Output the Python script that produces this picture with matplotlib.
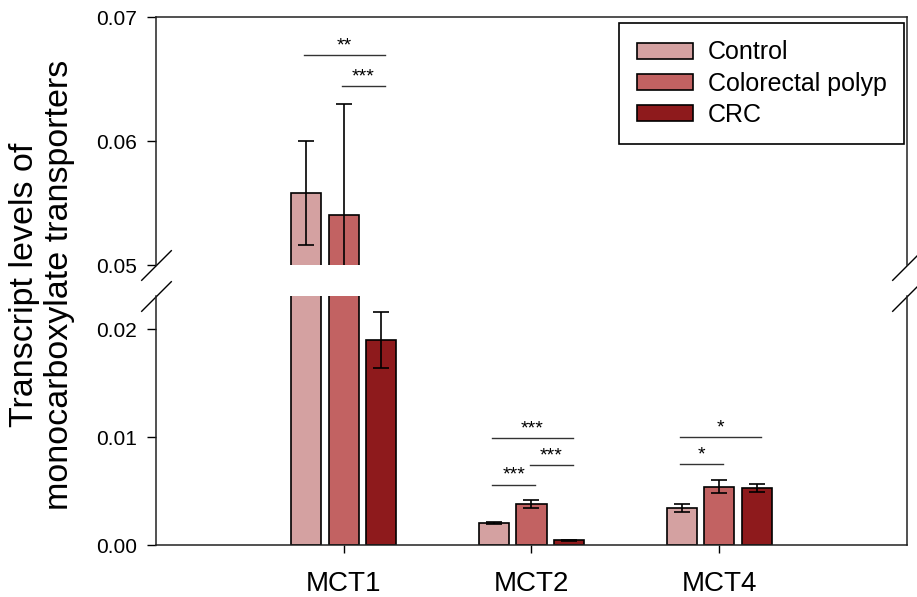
import matplotlib
matplotlib.use('Agg')
import matplotlib.pyplot as plt
import numpy as np

plt.rcParams['font.family'] = ['Liberation Sans', 'DejaVu Sans']

genes = ['MCT1', 'MCT2', 'MCT4']
groups = ['Control', 'Colorectal polyp', 'CRC']
colors = ['#D4A1A1', '#C26262', '#8E1A1C']

control = [0.0558, 0.00204, 0.00343]
control_err = [0.0042, 0.0001, 0.0004]
polyp = [0.0540, 0.0038, 0.0054]
polyp_err = [0.0090, 0.0004, 0.0006]
crc = [0.0190, 0.00046, 0.0053]
crc_err = [0.0026, 0.00005, 0.0004]

# significance brackets: gene, first bar, second bar, height, stars
sig_gene = [0, 0, 1, 1, 1, 2, 2]
sig_from = [0, 1, 0, 1, 0, 0, 0]
sig_to = [2, 2, 2, 2, 1, 2, 1]
sig_y = [0.0669, 0.0644, 0.0099, 0.0074, 0.0056, 0.0100, 0.0075]
sig_text = ['**', '***', '***', '***', '***', '*', '*']

series = [control, polyp, crc]
errors = [control_err, polyp_err, crc_err]
x = np.arange(len(genes))
width = 0.16
offsets = [-0.2, 0, 0.2]

fig = plt.figure(figsize=(9.17, 5.97), dpi=100)
ax_top = fig.add_axes([0.1701, 0.5561, 0.8190, 0.4154])
ax_bot = fig.add_axes([0.1701, 0.0871, 0.8190, 0.4171])

for ax in (ax_top, ax_bot):
    for i in range(3):
        ax.bar(x + offsets[i], series[i], width, yerr=errors[i], color=colors[i],
               edgecolor='black', linewidth=1.2, label=groups[i], capsize=5.8,
               error_kw=dict(elinewidth=1.2, capthick=1.2, ecolor='black'))
    ax.set_xlim(-1, 3)
    for s in ax.spines.values():
        s.set_linewidth(1.1)
        s.set_color('#222222')
    ax.tick_params(axis='y', direction='out', length=6.5, width=1, pad=7, labelsize=15)

ax_top.set_ylim(0.05, 0.07)
ax_top.set_yticks([0.05, 0.06, 0.07])
ax_top.set_yticklabels(['0.05', '0.06', '0.07'])
ax_top.spines['bottom'].set_visible(False)
ax_top.tick_params(axis='x', bottom=False, labelbottom=False)

ax_bot.set_ylim(0, 0.0231)
ax_bot.set_yticks([0, 0.01, 0.02])
ax_bot.set_yticklabels(['0.00', '0.01', '0.02'])
ax_bot.spines['top'].set_visible(False)
ax_bot.set_xticks(x)
ax_bot.set_xticklabels(genes)
ax_bot.tick_params(axis='x', direction='out', length=5.8, width=1, pad=13, labelsize=20)

# brackets with stars
for g, a, b, y, t in zip(sig_gene, sig_from, sig_to, sig_y, sig_text):
    ax = ax_top if y > 0.04 else ax_bot
    x1 = g + offsets[a] - 0.01
    x2 = g + offsets[b] + 0.02
    ax.plot([x1, x2], [y, y], color='#333333', linewidth=1)
    ax.annotate(t, ((x1 + x2) / 2, y), xytext=(0, 0.5), textcoords='offset points',
                ha='center', va='bottom', fontsize=14)

# axis break marks
d = dict(marker=[(-1, -1), (1, 1)], markersize=22, linestyle='none', color='k',
         mec='k', mew=1, clip_on=False)
ax_top.plot([0, 1], [0, 0], transform=ax_top.transAxes, **d)
ax_bot.plot([0, 1], [1, 1], transform=ax_bot.transAxes, **d)

leg = ax_top.legend(loc='upper right', bbox_to_anchor=(0.996, 0.976), fontsize=18,
                    frameon=True, fancybox=False, framealpha=1, edgecolor='black',
                    handlelength=2.24, handleheight=0.6, handletextpad=0.6,
                    labelspacing=0.29, borderaxespad=0, borderpad=0.7)
leg.get_frame().set_linewidth(1.2)

fig.text(0.046, 1 - 285 / 597, 'Transcript levels of\nmonocarboxylate transporters',
         rotation=90, ha='center', va='center', fontsize=24.5, multialignment='center',
         linespacing=1.15)

fig.savefig('out.png', dpi=100)
